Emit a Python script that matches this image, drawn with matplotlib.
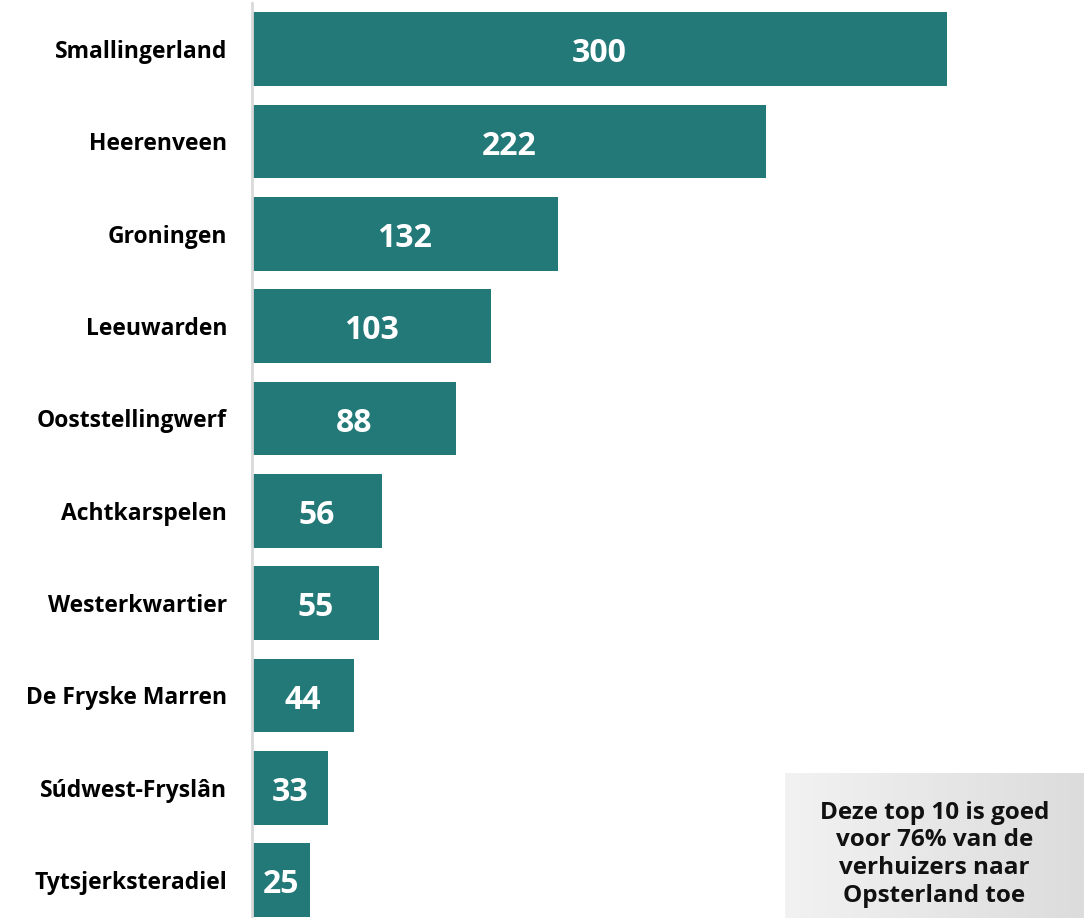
import numpy as np
import matplotlib.pyplot as plt

# Gemeenten en aantallen verhuizers
gemeenten = ['Smallingerland', 'Heerenveen', 'Groningen', 'Leeuwarden',
             'Ooststellingwerf', 'Achtkarspelen', 'Westerkwartier',
             'De Fryske Marren', 'Súdwest-Fryslân', 'Tytsjerksteradiel']
aantallen = [300, 222, 132, 103, 88, 56, 55, 44, 33, 25]
kader_tekst = 'Deze top 10 is goed\nvoor 76% van de\nverhuizers naar\nOpsterland toe'

plt.rcParams['font.family'] = ['Open Sans', 'DejaVu Sans']

W, H = 1084, 918
fig = plt.figure(figsize=(W / 100, H / 100), dpi=100)
ax = fig.add_axes([252 / W, 0, 1 - 252 / W, (H - 3) / H])

kleur = '#237878'
y = np.arange(len(gemeenten))
bars = ax.barh(y, aantallen, height=0.8, color=kleur)

ax.set_xlim(0, (W - 252) / 2.317)
ax.set_ylim(9.41, -0.5)

for rect, val in zip(bars, aantallen):
    ax.text(rect.get_width() / 2, rect.get_y() + rect.get_height() / 2 + 0.05,
            str(val), ha='center', va='center', color='white',
            fontsize=23, fontweight='bold')

ax.set_yticks(y)
ax.set_yticklabels(gemeenten, fontsize=16.5, fontweight='bold')
ax.tick_params(axis='y', length=0, pad=18)
ax.set_xticks([])
for s in ['top', 'right', 'bottom']:
    ax.spines[s].set_visible(False)
ax.spines['left'].set_color('#d9d9d9')
ax.spines['left'].set_linewidth(2)

# Grijs kader met verloop rechtsonder
kx0, ky0, kx1, ky1 = 785 / W, 0, 1, (H - 773) / H
kax = fig.add_axes([kx0, ky0, kx1 - kx0, ky1 - ky0])
grad = np.linspace(0, 1, 256).reshape(1, -1)
kax.imshow(grad, cmap=plt.matplotlib.colors.LinearSegmentedColormap.from_list(
    'g', ['#f2f2f2', '#dcdcdc']), aspect='auto', extent=[0, 1, 0, 1])
kax.set_xlim(0, 1)
kax.set_ylim(0, 1)
kax.axis('off')
kax.text(0.5, 0.44, kader_tekst, ha='center', va='center', fontsize=17.5,
         fontweight='bold', color='#111111', linespacing=1.2)

fig.savefig('out.png', dpi=100)
